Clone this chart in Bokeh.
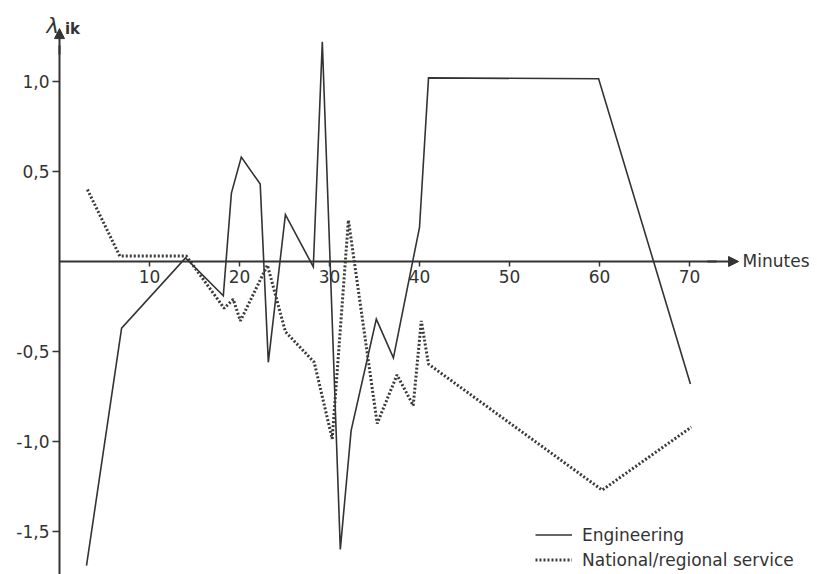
from bokeh.plotting import figure
from bokeh.models import (LinearAxis, FixedTicker, Range1d, Arrow, NormalHead,
                          Label, Legend, LegendItem)
from bokeh.embed import file_html
from bokeh.resources import INLINE

# ---- data ----
minutes_eng = [3.0, 6.9, 14.0, 18.2, 19.1, 20.2, 22.3, 23.2, 25.1, 28.2, 29.2,
               31.2, 32.4, 35.2, 37.1, 40.0, 41.0, 59.9, 70.1]
lambda_eng = [-1.69, -0.37, 0.02, -0.19, 0.38, 0.58, 0.43, -0.56, 0.26, -0.03,
              1.22, -1.60, -0.94, -0.32, -0.535, 0.19, 1.02, 1.015, -0.68]

minutes_nat = [3.1, 6.7, 14.1, 18.3, 19.3, 20.1, 23.1, 25.1, 28.3, 30.3, 32.1,
               35.3, 37.5, 39.3, 40.2, 41.0, 60.3, 70.2]
lambda_nat = [0.40, 0.03, 0.03, -0.26, -0.21, -0.33, -0.02, -0.39, -0.56, -0.985,
              0.23, -0.90, -0.63, -0.80, -0.33, -0.57, -1.27, -0.92]

x_ticks = [10, 20, 30, 40, 50, 60, 70]
y_ticks = [-1.5, -1.0, -0.5, 0.5, 1.0]
y_tick_labels = ["-1,5", "-1,0", "-0,5", "0,5", "1,0"]

series_names = ["Engineering", "National/regional service"]

INK = "#333333"
FONT = "DejaVu Sans"

p = figure(width=817, height=574,
           x_range=Range1d(-6.556, 84.22), y_range=Range1d(-1.7389, 1.45),
           output_backend="svg", toolbar_location=None,
           x_axis_location=None, y_axis_location=None,
           min_border=0, min_border_left=0, min_border_right=0,
           min_border_top=0, min_border_bottom=0,
           background_fill_color="white", border_fill_color="white",
           outline_line_color=None)
p.grid.grid_line_color = None

xaxis = LinearAxis(fixed_location=0, ticker=FixedTicker(ticks=x_ticks),
                   bounds=(0, 73), axis_line_width=2, axis_line_color=INK,
                   major_tick_out=5, major_tick_in=0, major_tick_line_color=INK,
                   major_tick_line_width=1.5,
                   minor_tick_out=0, minor_tick_in=0,
                   major_label_standoff=4,
                   major_label_text_font=FONT, major_label_text_font_size="17px",
                   major_label_text_color=INK)
p.add_layout(xaxis, "below")

yaxis = LinearAxis(fixed_location=0, ticker=FixedTicker(ticks=y_ticks),
                   bounds=(-1.75, 1.2), axis_line_width=2, axis_line_color=INK,
                   major_tick_out=7, major_tick_in=0, major_tick_line_color=INK,
                   major_tick_line_width=1.5,
                   minor_tick_out=0, minor_tick_in=0,
                   major_label_standoff=3,
                   major_label_overrides=dict(zip(y_ticks, y_tick_labels)),
                   major_label_text_font=FONT, major_label_text_font_size="17px",
                   major_label_text_color=INK)
p.add_layout(yaxis, "left")

# axis arrowheads
p.add_layout(Arrow(x_start=72, y_start=0, x_end=75.45, y_end=0,
                   line_color=INK, line_width=2,
                   end=NormalHead(size=10, fill_color=INK, line_color=INK)))
p.add_layout(Arrow(x_start=0, y_start=1.15, x_end=0, y_end=1.294,
                   line_color=INK, line_width=2,
                   end=NormalHead(size=10, fill_color=INK, line_color=INK)))

r_eng = p.line(minutes_eng, lambda_eng, line_color=INK, line_width=1.6,
               line_join="miter")
r_nat = p.line(minutes_nat, lambda_nat, line_color="#3a3a3a", line_width=3,
               line_dash="2 2")

# axis titles
p.add_layout(Label(x=75.9, y=0, text="Minutes", text_baseline="middle",
                   text_font=FONT, text_font_size="17px", text_color=INK))
p.add_layout(Label(x=-1.45, y=1.311, text="λ", text_baseline="alphabetic",
                   text_font=FONT, text_font_size="21px", text_font_style="italic",
                   text_color=INK))
p.add_layout(Label(x=0.6, y=1.29, text="ik", text_baseline="alphabetic",
                   text_font=FONT, text_font_size="15px", text_font_style="bold",
                   text_color=INK))

legend = Legend(items=[LegendItem(label=series_names[0], renderers=[r_eng]),
                       LegendItem(label=series_names[1], renderers=[r_nat])],
                location=(535, 2), orientation="vertical",
                glyph_width=37, glyph_height=25, label_height=25,
                label_standoff=10, spacing=0, padding=0, margin=0,
                label_text_font=FONT, label_text_font_size="17px",
                label_text_color=INK, border_line_color=None,
                background_fill_alpha=0)
p.add_layout(legend)

open("out.html", "w").write(file_html(p, INLINE))
